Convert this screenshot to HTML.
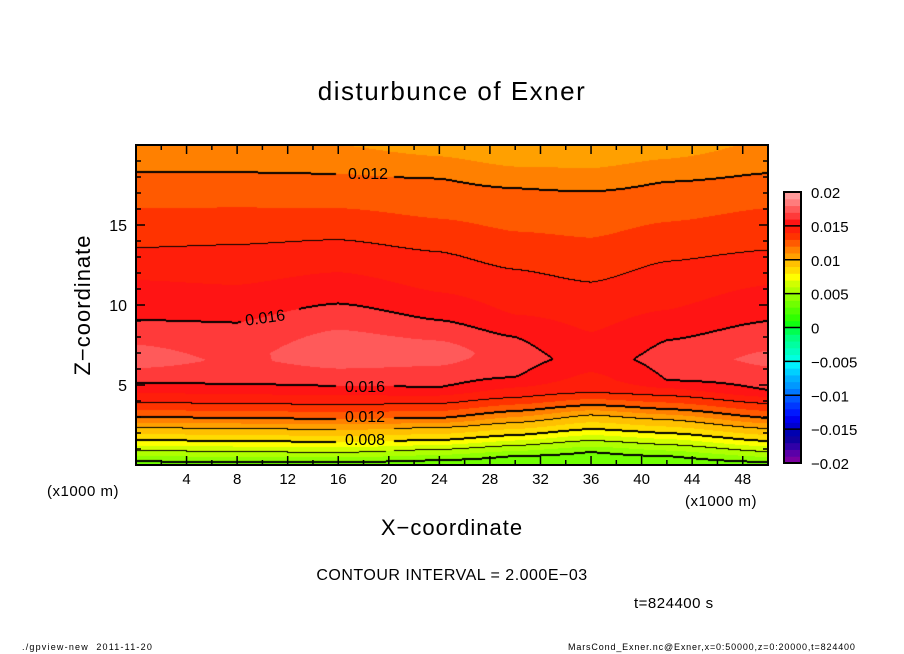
<!DOCTYPE html>
<html><head><meta charset="utf-8"><style>
body{margin:0;background:#fff;width:904px;height:654px;position:relative;overflow:hidden;font-family:"Liberation Sans",sans-serif;color:#000}
.t{position:absolute;white-space:nowrap}
</style></head><body>
<div class="t" style="left:0;width:904px;text-align:center;top:76px;font-size:26px;letter-spacing:1.5px">disturbunce of Exner</div>
<canvas id="cv" width="632" height="320" style="position:absolute;left:136px;top:145px"></canvas>
<svg id="ax" width="904" height="654" style="position:absolute;left:0;top:0"></svg>
<div class="t" style="left:83px;top:305px;font-size:22px;transform:translate(-50%,-50%) rotate(-90deg);letter-spacing:1px">Z−coordinate</div>
<div class="t" style="left:0;width:904px;text-align:center;top:515px;font-size:22px;letter-spacing:1px">X−coordinate</div>
<div class="t" style="left:47px;top:483px;font-size:15px;letter-spacing:0.5px">(x1000 m)</div>
<div class="t" style="left:685px;top:493px;font-size:15px;letter-spacing:0.5px">(x1000 m)</div>
<div class="t" style="left:0;width:904px;text-align:center;top:567px;font-size:16px;letter-spacing:0.5px">CONTOUR INTERVAL = 2.000E−03</div>
<div class="t" style="left:634px;top:595px;font-size:15px;letter-spacing:0.5px">t=824400 s</div>
<div class="t" style="left:22px;top:642px;font-size:9px;letter-spacing:1.2px">./gpview-new &nbsp;2011-11-20</div>
<div class="t" style="left:568px;top:642px;font-size:9px;letter-spacing:0.85px">MarsCond_Exner.nc@Exner,x=0:50000,z=0:20000,t=824400</div>
<script>
// column positions (km) and vertical profiles (z km, value)
const colX = [0, 8, 16, 24, 30, 36, 42, 50];
const colZ = [
 [0,0.25,0.875,1.56,2.31,3.0,3.875,5.125,6.6,9.06,11.56,13.56,16.06,18.3,20],
 [0,0.19,0.81,1.5,2.25,2.94,3.81,5.06,6.5,8.9,11.25,13.75,16.1,18.3,20],
 [0,0.19,0.75,1.44,2.19,2.875,3.75,4.94,7.0,10.1,12.06,14.06,16.06,18.2,20],
 [0,0.31,0.94,1.56,2.31,2.94,3.81,4.875,7.0,9.06,10.8,13.3,15.4,17.9,20],
 [0,0.56,1.19,1.875,2.625,3.375,4.19,5.5,6.7,8.0,9.4,12.2,14.6,17.3,20],
 [0,0.81,1.5,2.25,3.1,3.75,4.5,6.6,8.3,11.4,14.2,17.1,20],
 [0,0.56,1.25,2.0,2.81,3.5,4.31,5.3,6.6,7.8,9.7,12.7,15.2,17.7,20],
 [0,0.19,0.81,1.5,2.25,2.94,3.81,4.69,6.6,9.0,11.25,13.4,16.06,18.25,20]
];
const colV = [
 [.0038,.004,.006,.008,.010,.012,.014,.016,.0176,.016,.015,.014,.013,.012,.0112],
 [.0038,.004,.006,.008,.010,.012,.014,.016,.0168,.016,.015,.014,.013,.012,.0112],
 [.0038,.004,.006,.008,.010,.012,.014,.016,.0179,.016,.015,.014,.013,.012,.0110],
 [.0036,.004,.006,.008,.010,.012,.014,.016,.0176,.016,.015,.014,.013,.012,.0105],
 [.0032,.004,.006,.008,.010,.012,.014,.016,.0164,.016,.015,.014,.013,.012,.0100],
 [.0030,.004,.006,.008,.010,.012,.014,.0156,.015,.014,.013,.012,.0100],
 [.0032,.004,.006,.008,.010,.012,.014,.016,.0163,.016,.015,.014,.013,.012,.0104],
 [.0038,.004,.006,.008,.010,.012,.014,.016,.0173,.016,.015,.014,.013,.012,.0112]
];
// colour levels from -0.02 to 0.02 step 0.001 (40 bands)
const bandColors = [
 "#7a00a0","#5a00a8","#3000a8","#1000a0","#0000b0",
 "#0000d0","#0000f0","#0018ff","#0038ff","#0058ff",
 "#0078ff","#0098ff","#00b0ff","#00d0ff","#00f0ff",
 "#00ffe0","#00ffc0","#00ffa0","#00ff80","#00ff50",
 "#10ff10","#30ff00","#50ff00","#70ff00","#90ff00",
 "#b0ff00","#d0ff00","#ffff00","#ffdc00","#ffc000",
 "#ffa000","#ff8000","#ff5a00","#ff3300","#ff1e0a",
 "#ff1414","#ff3a3a","#ff5a5a","#ff7c7c","#ff9a9a"];
const barTicks = ["0.02","0.015","0.01","0.005","0","−0.005","−0.01","−0.015","−0.02"];
const xTicks = [4,8,12,16,20,24,28,32,36,40,44,48];
const zTicks = [5,10,15];

const X0=136,X1=768,Y0=145,Y1=465,XMAX=50,ZMAX=20;
const sx=x=>X0+(x/XMAX)*(X1-X0);
const sz=z=>Y1-(z/ZMAX)*(Y1-Y0);
function prof(i,z){const zs=colZ[i],vs=colV[i];
 for(let k=0;k<zs.length-1;k++){if(z<=zs[k+1]){const t=(z-zs[k])/(zs[k+1]-zs[k]);return vs[k]+t*(vs[k+1]-vs[k]);}}
 return vs[vs.length-1];}
function field(x,z){let i=0;while(i<colX.length-2&&x>colX[i+1])i++;
 let t=Math.min(1,Math.max(0,(x-colX[i])/(colX[i+1]-colX[i])));
 t=t*t*(3-2*t)*0.5+t*0.5;
 return prof(i,z)*(1-t)+prof(i+1,z)*t;}

const cv=document.getElementById('cv'),ctx=cv.getContext('2d');
const W=cv.width,H=cv.height;
const img=ctx.createImageData(W,H);
const val=new Float64Array(W*H);
for(let py=0;py<H;py++)for(let px=0;px<W;px++){
 const x=(px+0.5)/W*XMAX,z=ZMAX-(py+0.5)/H*ZMAX;val[py*W+px]=field(x,z);}
function hex(c){return [parseInt(c.substr(1,2),16),parseInt(c.substr(3,2),16),parseInt(c.substr(5,2),16)];}
const rgb=bandColors.map(hex);
const labelBoxes=[[200,20,58,22],[105,160,58,24],[200,232,58,22],[200,262,58,22],[200,284,58,22]];
function inLabel(px,py){return labelBoxes.some(b=>px>=b[0]&&px<b[0]+b[2]&&py>=b[1]&&py<b[1]+b[3]);}
const mark=new Uint8Array(W*H);
const ci=v=>Math.floor(v/0.002+1e-9);
for(let py=0;py<H;py++)for(let px=0;px<W;px++){
 const a=ci(val[py*W+px]);
 const nb=[[1,0],[0,1]];
 for(const [dx,dy] of nb){const qx=px+dx,qy=py+dy;if(qx>=W||qy>=H)continue;
  const b=ci(val[qy*W+qx]);if(a!==b&&!inLabel(px,py)){const lev=Math.max(a,b);
   mark[py*W+px]=1;if(lev%2===0){if(dy)mark[Math.min(H-1,py+1)*W+px]=1;else mark[py*W+Math.min(W-1,px+1)]=1;}}}}
for(let p=0;p<W*H;p++){let k=Math.floor(val[p]/0.001+1e-9)+20;k=Math.max(0,Math.min(rgb.length-1,k));
 const c=mark[p]?[0,0,0]:rgb[k];img.data[p*4]=c[0];img.data[p*4+1]=c[1];img.data[p*4+2]=c[2];img.data[p*4+3]=255;}
ctx.putImageData(img,0,0);

const NS='http://www.w3.org/2000/svg';const svg=document.getElementById('ax');
function el(tag,attrs,parent){const e=document.createElementNS(NS,tag);for(const k in attrs)e.setAttribute(k,attrs[k]);(parent||svg).appendChild(e);return e;}
const frame=el('rect',{x:X0,y:Y0,width:X1-X0,height:Y1-Y0,fill:'none',stroke:'#000','stroke-width':2});


for(let x=2;x<XMAX;x+=2){const L=(x%4===0)?9:5;
 el('line',{x1:sx(x),x2:sx(x),y1:Y1,y2:Y1-L,stroke:'#000','stroke-width':1.5});
 el('line',{x1:sx(x),x2:sx(x),y1:Y0,y2:Y0+L,stroke:'#000','stroke-width':1.5});}
for(let z=1;z<ZMAX;z++){const L=(z%5===0)?9:5;
 el('line',{x1:X0,x2:X0+L,y1:sz(z),y2:sz(z),stroke:'#000','stroke-width':1.5});
 el('line',{x1:X1,x2:X1-L,y1:sz(z),y2:sz(z),stroke:'#000','stroke-width':1.5});}
xTicks.forEach(v=>{const t=el('text',{x:sx(v),y:484,'text-anchor':'middle','font-size':15,'font-family':'Liberation Sans'});t.textContent=v;
 
 });
zTicks.forEach(v=>{const t=el('text',{x:127,y:sz(v)+6,'text-anchor':'end','font-size':16,'font-family':'Liberation Sans'});t.textContent=v;
 
 });
// contour labels
const cl=[["0.012",368,179,0],["0.016",265,323,-8],["0.016",365,392,0],["0.012",365,422,0],["0.008",365,445,0]];
cl.forEach(c=>{const t=el('text',{x:c[1],y:c[2],'text-anchor':'middle','font-size':16,'font-family':'Liberation Sans',transform:`rotate(${c[3]} ${c[1]} ${c[2]-6})`});t.textContent=c[0];
 
 });
// colorbar
const BX=784,BW=17,BT=192,BB=463,n=40,bh=(BB-BT)/n;
for(let i=0;i<n;i++){const r=el('rect',{x:BX,y:BB-(i+1)*bh,width:BW,height:bh+0.5,fill:bandColors[i]});
 
 }
for(let i=0;i<=8;i++){el('line',{x1:BX,x2:BX+BW,y1:BT+i*(BB-BT)/8,y2:BT+i*(BB-BT)/8,stroke:'#000','stroke-width':1.5});
 const t=el('text',{x:811,y:BT+i*(BB-BT)/8+6,'font-size':15,'font-family':'Liberation Sans'});t.textContent=barTicks[i];
 
 }
el('rect',{x:BX,y:BT,width:BW,height:BB-BT,fill:'none',stroke:'#000','stroke-width':2});
</script>
</body></html>
